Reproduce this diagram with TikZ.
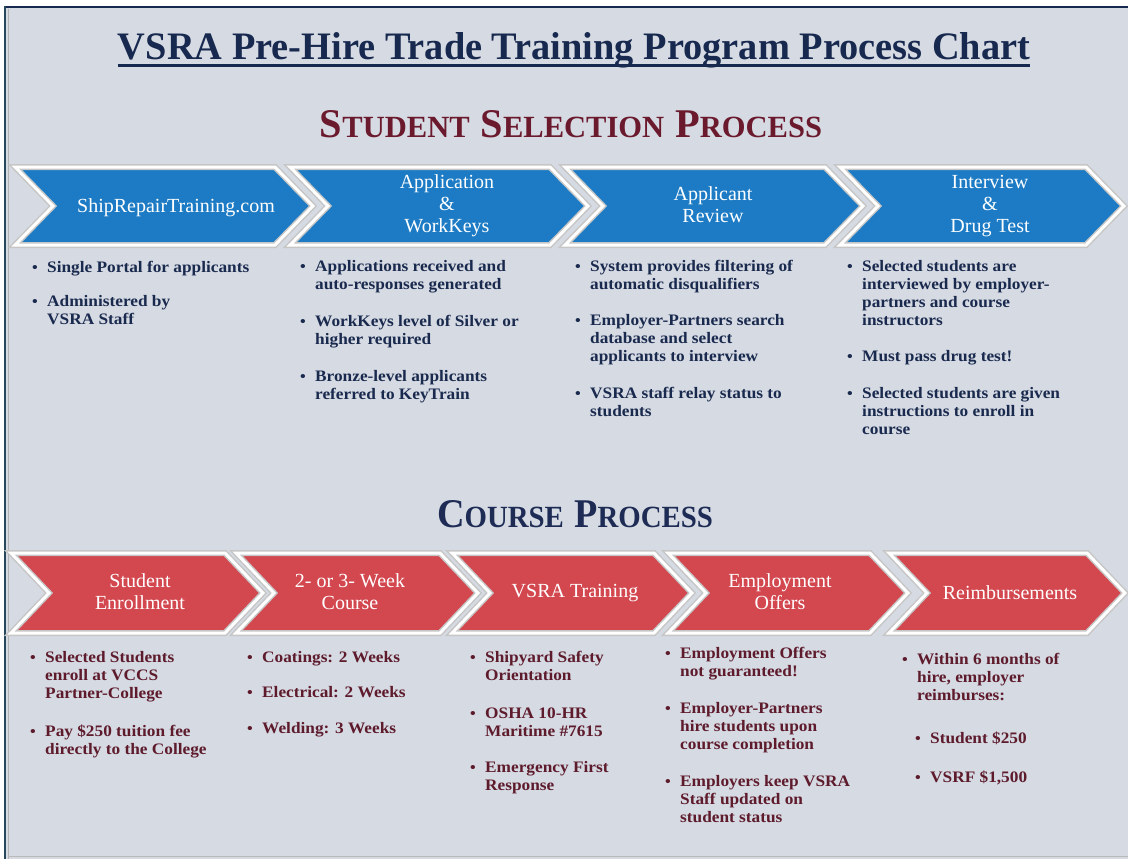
\documentclass[tikz,border=0pt]{standalone}
\usepackage{fontspec}
\setmainfont{Liberation Serif}[FakeStretch=1.08]
\newfontfamily\chevfont{Liberation Serif}
\newfontfamily\headfont{Liberation Serif}
\definecolor{bgc}{HTML}{D5DAE3}
\definecolor{chevblue}{HTML}{1C7BC4}
\definecolor{chevred}{HTML}{D3474F}
\definecolor{navytxt}{HTML}{1A2A4E}
\definecolor{maroontxt}{HTML}{5E1B2C}
\definecolor{titlec}{HTML}{18294F}
\definecolor{headred}{HTML}{6B1A2E}
\definecolor{headblue}{HTML}{1E2C55}
\definecolor{framec}{HTML}{27475A}
\tikzset{
  chevshape/.style={line width=6pt, draw=gray!45, line join=miter, fill=#1},
  chevedge/.style={line width=3pt, draw=white, line join=miter},
  chevtext/.style={text=white, align=center, inner sep=0pt,
    font=\chevfont\fontsize{20}{22}\selectfont},
  bulmark/.style={text=#1, anchor=base, inner sep=0pt,
    font=\fontsize{15}{16}\selectfont\bfseries},
  bultext/.style={text=#1, anchor=base west, inner sep=0pt,
    font=\fontsize{16}{18}\selectfont\bfseries},
  heading/.style={text=#1, anchor=base, inner sep=0pt, font=\headfont\bfseries}
}
% chevron: #1 colour, #2 left x, #3 length, #4 top y, #5 bottom y, #6 depth
\newcommand\chevron[6]{%
  \path[chevshape=#1] (#2,#4) -- ({#2+#3-#6},#4) -- ({#2+#3},{(#4+#5)/2})
     -- ({#2+#3-#6},#5) -- (#2,#5) -- ({#2+#6},{(#4+#5)/2}) -- cycle;
  \path[chevedge] (#2,#4) -- ({#2+#3-#6},#4) -- ({#2+#3},{(#4+#5)/2})
     -- ({#2+#3-#6},#5) -- (#2,#5) -- ({#2+#6},{(#4+#5)/2}) -- cycle;
}
% bullet item: #1 name, #2 text x, #3 baseline y, #4 colour, #5 text
\newcommand\bitem[5]{%
  \node[bulmark=#4] (#1b) at ({#2-12},#3) {\textbullet};
  \node[bultext=#4] (#1) at (#2,#3) {\parbox[t]{230pt}{#5}};
}
\newcommand\fsc[2]{{\fontsize{41}{41}\selectfont #1}{\fontsize{31}{31}\selectfont #2}}
\begin{document}
\begin{tikzpicture}[x=1pt,y=-1pt]
\useasboundingbox (0,0) rectangle (1128,859);
\fill[white] (0,0) rectangle (1128,859);
\fill[bgc] (5,7) rectangle (1128,859);
\draw[titlec, line width=2.5pt] (4,7) -- (1128,7);
\draw[framec, line width=2.5pt] (5,6) -- (5,859);
\draw[gray!60, line width=1pt] (8,9) -- (8,859);
\draw[gray!55, line width=1pt] (8,856) -- (1128,856);

% title and headings
\node[heading=titlec] (title) at (574,60)
  {\resizebox{912pt}{27pt}{\fontsize{40}{40}\selectfont VSRA Pre-Hire Trade Training Program Process Chart}};
\draw[titlec, line width=3pt] (118,66) -- (1030,66);
\node[heading=headred] (selhead) at (571,137)
  {\resizebox{502pt}{27pt}{\fsc{S}{TUDENT}\hspace{11pt}\fsc{S}{ELECTION}\hspace{11pt}\fsc{P}{ROCESS}}};
\node[heading=headblue] (coursehead) at (575,527)
  {\resizebox{276pt}{27pt}{\fsc{C}{OURSE}\hspace{11pt}\fsc{P}{ROCESS}}};

% blue chevrons
\chevron{chevblue}{15}{298}{167}{245}{38}
\chevron{chevblue}{290}{298}{167}{245}{38}
\chevron{chevblue}{565}{298}{167}{245}{38}
\chevron{chevblue}{840}{284}{167}{245}{38}
\node[chevtext] (b1) at (176,208) {ShipRepairTraining.com};
\node[chevtext] (b2) at (447,206) {Application\\\&\\WorkKeys};
\node[chevtext] (b3) at (713,205) {Applicant\\Review};
\node[chevtext] (b4) at (990,206) {Interview\\\&\\Drug Test};

% red chevrons
\chevron{chevred}{11}{252}{553}{633}{38}
\chevron{chevred}{236}{242}{553}{633}{38}
\chevron{chevred}{452}{240}{553}{633}{38}
\chevron{chevred}{668}{240}{553}{633}{38}
\chevron{chevred}{889}{236}{553}{633}{38}
\node[chevtext] (r1) at (140,592) {Student\\Enrollment};
\node[chevtext] (r2) at (350,592) {2- or 3- Week\\Course};
\node[chevtext] (r3) at (575,593) {VSRA Training};
\node[chevtext] (r4) at (780,592) {Employment\\Offers};
\node[chevtext] (r5) at (1010,593) {Reimbursements};

% blue bullets
\bitem{s1a}{47}{272}{navytxt}{Single Portal for applicants}
\bitem{s1b}{47}{306}{navytxt}{Administered by\\VSRA Staff}
\bitem{s2a}{315}{271}{navytxt}{Applications received and\\auto-responses generated}
\bitem{s2b}{315}{326}{navytxt}{WorkKeys level of Silver or\\higher required}
\bitem{s2c}{315}{381}{navytxt}{Bronze-level applicants\\referred to KeyTrain}
\bitem{s3a}{590}{271}{navytxt}{System provides filtering of\\automatic disqualifiers}
\bitem{s3b}{590}{325}{navytxt}{Employer-Partners search\\database and select\\applicants to interview}
\bitem{s3c}{590}{398}{navytxt}{VSRA staff relay status to\\students}
\bitem{s4a}{862}{271}{navytxt}{Selected students are\\interviewed by employer-\\partners and course\\instructors}
\bitem{s4b}{862}{361}{navytxt}{Must pass drug test!}
\bitem{s4c}{862}{398}{navytxt}{Selected students are given\\instructions to enroll in\\course}

% red bullets
\bitem{c1a}{45}{662}{maroontxt}{Selected Students\\enroll at VCCS\\Partner-College}
\bitem{c1b}{45}{736}{maroontxt}{Pay \$250 tuition fee\\directly to the College}
\bitem{c2a}{262}{662}{maroontxt}{Coatings: 2 Weeks}
\bitem{c2b}{262}{697}{maroontxt}{Electrical: 2 Weeks}
\bitem{c2c}{262}{733}{maroontxt}{Welding: 3 Weeks}
\bitem{c3a}{485}{662}{maroontxt}{Shipyard Safety\\Orientation}
\bitem{c3b}{485}{718}{maroontxt}{OSHA 10-HR\\Maritime \#7615}
\bitem{c3c}{485}{772}{maroontxt}{Emergency First\\Response}
\bitem{c4a}{680}{658}{maroontxt}{Employment Offers\\not guaranteed!}
\bitem{c4b}{680}{713}{maroontxt}{Employer-Partners\\hire students upon\\course completion}
\bitem{c4c}{680}{786}{maroontxt}{Employers keep VSRA\\Staff updated on\\student status}
\bitem{c5a}{917}{664}{maroontxt}{Within 6 months of\\hire, employer\\reimburses:}
\bitem{c5b}{930}{743}{maroontxt}{Student \$250}
\bitem{c5c}{930}{782}{maroontxt}{VSRF \$1,500}
\end{tikzpicture}
\end{document}
